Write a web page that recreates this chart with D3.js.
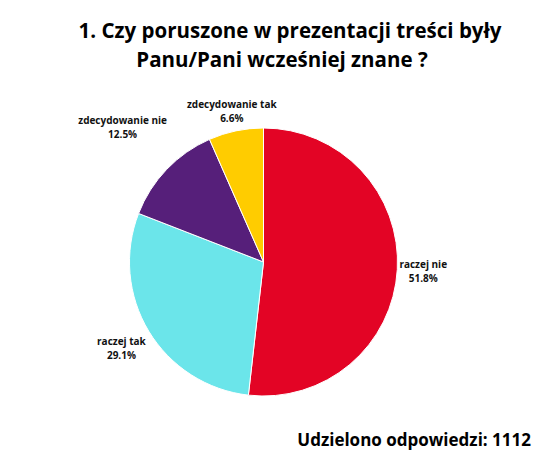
<!DOCTYPE html>
<html><head><meta charset="utf-8">
<script src="https://cdn.jsdelivr.net/npm/d3@7"></script>
<style>body{margin:0;background:#fff}text{font-family:"Open Sans",sans-serif;font-weight:bold}</style>
</head><body><svg id="c" width="540" height="453"></svg>
<script>
const categories = ["raczej nie","raczej tak","zdecydowanie nie","zdecydowanie tak"];
const values = [51.8, 29.1, 12.5, 6.6];
const colors = ["#E30425","#6BE5EA","#561F7A","#FFCC00"];
const labelRadius = [160, 166, 195, 154];

const svg = d3.select("#c");
const cx = 263.5, cy = 262, r = 134;
svg.append("text").attr("x",290).attr("y",38).attr("text-anchor","middle").attr("font-size",20.5)
  .text("1.  Czy poruszone w prezentacji treści były");
svg.append("text").attr("x",282).attr("y",67).attr("text-anchor","middle").attr("font-size",20.5)
  .text("Panu/Pani wcześniej znane ?");

const pie = d3.pie().sort(null).value(d=>d);
const arcs = pie(values);
const g = svg.append("g").attr("transform",`translate(${cx},${cy})`);
g.selectAll("path").data(arcs).join("path")
  .attr("d", d3.arc().innerRadius(0).outerRadius(r))
  .attr("fill",(d,i)=>colors[i]).attr("stroke","#fff").attr("stroke-width",1);

arcs.forEach((d,i)=>{
  const a=(d.startAngle+d.endAngle)/2, rr=labelRadius[i];
  const x=rr*Math.sin(a), y=-rr*Math.cos(a);
  const t=g.append("text").attr("text-anchor","middle").attr("font-size",10).attr("fill","#111");
  t.append("tspan").attr("x",x).attr("y",y-3).text(categories[i]);
  t.append("tspan").attr("x",x).attr("y",y+11).text(d3.format(".1f")(values[i])+"%");
});

svg.append("text").attr("x",531).attr("y",446).attr("text-anchor","end").attr("font-size",17)
  .text("Udzielono odpowiedzi: 1112");
</script></body></html>
